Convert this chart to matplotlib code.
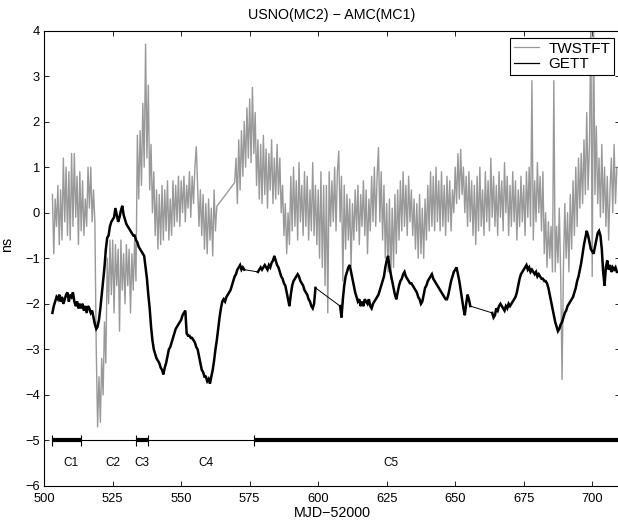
import matplotlib
matplotlib.use('Agg')
import matplotlib.pyplot as plt
from matplotlib.lines import Line2D
import numpy as np

plt.rcParams['font.family'] = ['Liberation Sans', 'DejaVu Sans']

# sample spacing (days) of the values below
STEP = 0.5

# TWSTFT, USNO(MC2) - AMC(MC1), ns; first block starts at MJD 52503.0
twstft_a_start = 503.0
twstft_a = [
    0.4, -0.9, 0.3, -0.3, 0.6, -0.7, 0.5, -0.6, 1.2, -0.2,
    1.0, -0.5, 0.9, -0.6, 1.3, -0.3, 1.3, -0.1, 0.8, -0.7,
    0.9, -0.4, 0.7, -0.5, 0.3, -0.3, 1.0, 0.1, 1.0, -0.2,
    0.5, -0.2, -3.0, -4.7, -3.6, -4.6, -3.2, -4.0, -2.4, -3.3,
    -1.0, -2.0, -0.6, -1.8, -0.6, -2.2, -0.7, -1.6, -0.8, -2.6,
    -0.6, -1.7, -0.9, -2.0, -0.7, -1.6, -0.8, -2.2, -0.9, -1.7,
    -0.6, -1.5, 1.7, 0.3, 1.8, 0.6, 2.4, 1.0, 3.7, 1.2,
    2.8, 0.5, 1.5, 0.0, 0.9, -0.5, 0.5, -0.8, 0.4, -0.7,
    0.6, -0.6, 0.5, -0.4, 0.7, -0.6, 0.3, -0.5, 0.7, -0.3,
    0.6, -0.2, 0.8, -0.3, 0.7, 0.0, 0.8, -0.2, 0.6, 0.1,
    0.9, -0.1, 0.8, 0.2, 1.0, 1.45, 0.6, -0.3, 0.5, -0.5,
    0.4, -0.8, 0.2, -0.9, 0.3, -0.6, 0.1, -0.95, 0.5, -0.4,
    0.14,
]
twstft_b_start = 569.5
twstft_b = [
    0.66, 1.2, 0.2, 1.6, 0.5, 1.8, 0.8, 2.0, 1.0, 2.3,
    1.2, 2.5, 1.1, 2.75, 1.3, 2.2, 0.6, 1.6, 0.3, 1.5,
    0.2, 1.7, 0.4, 1.4, 0.1, 1.3, 0.5, 1.6, 0.2, 1.2,
    0.3, 1.5, 0.4, 1.2, 0.0, 0.6, -0.5, 0.2, -0.9, 0.0,
    -0.7, 0.8, -0.4, 1.0, -0.3, 0.7, -0.6, 1.1, -0.2, 0.6,
    -0.5, 0.9, -0.3, 0.8, -0.6, 0.5, -0.4, 1.1, -0.5, 0.6,
    -0.7, 0.5, -1.0, 0.9, -1.2, 0.6, -1.6, 0.6, -2.2, 0.9,
    -0.3, 0.7, -0.2, 1.0, -0.4, 0.9, 1.35, -0.2, 0.8, -1.5,
    0.6, -0.8, 0.4, -0.6, 0.3, -1.17, 0.2, -0.6, 0.5, -0.4,
    0.6, -0.7, 0.4, -0.3, 0.7, -0.5, 0.5, -0.9, 0.3, -0.4,
    0.8, -0.2, 1.0, -0.3, 0.8, 1.43, -0.2, 0.9, -0.6, 0.6,
    -1.0, 0.2, -1.3, 0.3, -1.46, 0.1, -1.2, 0.4, -0.9, 0.5,
    -0.6, 0.7, -0.4, 0.9, -0.3, 0.6, -0.5, 0.8, -0.2, 0.5,
    -0.5, 0.3, -0.8, 0.2, -1.0, 0.4, -0.9, 0.1, -1.0, 0.3,
    -0.6, 0.6, -0.4, 0.9, -0.3, 0.8, -0.4, 1.0, -0.2, 0.7,
    -0.4, 0.9, -0.3, 0.6, -0.5, 0.8, -0.2, 0.7, -0.4, 0.5,
    0.0, 1.0, 0.2, 1.3, 0.3, 1.39, 0.4, 1.0, 0.0, 0.8,
    -0.3, 0.9, -0.2, 0.7, -0.5, 0.6, -0.7, 0.8, -0.4, 1.0,
    -0.3, 0.5, -0.5, 0.9, -0.2, 0.7, -0.4, 1.2, -0.1, 0.8,
    -0.3, 0.6, -0.5, 0.9, -0.1, 0.7, -0.4, 1.1, 0.0, 0.8,
    -0.5, 0.6, -0.3, 0.9, -0.2, 0.7, -0.6, 0.5, -0.3, 0.8,
    -0.2, 0.6, -0.5, 0.9, -0.1, 1.0, -0.3, 2.9, -0.6, 0.7,
    -0.2, 1.1, 0.0, 0.8, -0.4, 0.9, -0.9, 0.0, -1.2, -0.2,
    -1.0, -0.3, -1.3, 2.9, -1.3, -0.3, -1.1, 0.1, -1.4, -3.66,
    -1.2, 0.2, -1.0, 0.0, -1.3, 0.4, -0.8, 0.7, -0.5, 1.0,
    -0.3, 1.2, 0.1, 1.3, 0.2, 1.6, 0.4, 2.2, 0.5, 1.5,
    4.2, -1.4, 4.2, 0.4, 1.9, 0.2, 1.2, -0.1, 1.5, 0.0,
    1.0, -0.3, 0.8, -0.6, 0.5, 1.2, 0.0, 1.5, 0.2, 1.0,
]

# GETT, ns, four blocks of data with gaps between them
gett_a_start = 503.0
gett_a = [
    -2.2, -2.05, -1.95, -1.85, -1.9, -1.8, -1.95, -1.85, -2.0, -1.9,
    -1.8, -1.75, -1.95, -1.8, -1.85, -1.75, -1.95, -2.05, -1.95, -2.1,
    -2.0, -2.1, -2.0, -2.15, -2.05, -2.2, -2.05, -2.1, -2.2, -2.15,
    -2.3, -2.45, -2.55, -2.5, -2.35, -2.1, -1.8, -1.5, -1.2, -0.8,
    -0.55, -0.5, -0.3, -0.2, -0.15, -0.1, 0.1, -0.05, -0.2, -0.1,
    0.05, 0.15, -0.05, -0.15, -0.25, -0.3, -0.35, -0.4, -0.45, -0.5,
    -0.5, -0.6, -0.65, -0.75, -0.8, -0.85, -0.9, -0.95, -1.2, -1.45,
    -1.8, -2.1, -2.5, -2.8, -3.0, -3.1, -3.2, -3.25, -3.3, -3.4,
    -3.45, -3.55, -3.4, -3.3, -3.15, -3.0, -2.95, -2.85, -2.75, -2.65,
    -2.55, -2.5, -2.45, -2.4, -2.35, -2.25, -2.2, -2.15, -2.65, -2.7,
    -2.7, -2.75, -2.75, -2.8, -2.85, -2.95, -3.0, -3.15, -3.3, -3.45,
    -3.5, -3.6, -3.6, -3.7, -3.65, -3.75, -3.6, -3.45, -3.25, -3.0,
    -2.8, -2.55, -2.3, -2.1, -1.95, -1.9, -1.95, -1.85, -1.8, -1.75,
    -1.7, -1.6, -1.5, -1.4, -1.35, -1.25, -1.2, -1.15, -1.25, -1.2,
    -1.25,
]
gett_b_start = 578.0
gett_b = [
    -1.3, -1.25, -1.2, -1.25, -1.2, -1.15, -1.2, -1.25, -1.15, -1.2,
    -1.1, -1.05, -0.95, -1.05, -1.15, -1.2, -1.3, -1.4, -1.45, -1.55,
    -1.6, -1.75, -1.9, -2.05, -1.8, -1.6, -1.5, -1.45, -1.4, -1.35,
    -1.4, -1.5, -1.55, -1.6, -1.7, -1.75, -1.8, -1.9, -1.95, -2.05,
    -2.1, -2.0, -1.65,
]
gett_c_start = 608.0
gett_c = [
    -2.05, -2.3, -1.9, -1.6, -1.4, -1.3, -1.2, -1.15, -1.3, -1.45,
    -1.6, -1.75, -1.85, -1.95, -1.9, -2.05, -1.95, -2.05, -1.9, -1.95,
    -2.0, -1.9, -2.05, -2.1, -2.0, -1.95, -1.9, -1.85, -1.8, -1.7,
    -1.6, -1.5, -1.4, -1.2, -1.05, -0.95, -1.2, -1.35, -1.5, -1.65,
    -1.8, -1.9, -1.75, -1.6, -1.5, -1.45, -1.35, -1.3, -1.4, -1.45,
    -1.5, -1.55, -1.55, -1.6, -1.65, -1.7, -1.75, -1.85, -1.9, -2.0,
    -1.95, -1.8, -1.65, -1.6, -1.5, -1.45, -1.4, -1.35, -1.45, -1.5,
    -1.55, -1.6, -1.65, -1.7, -1.75, -1.8, -1.85, -1.9, -1.9, -1.8,
    -1.65, -1.5, -1.4, -1.3, -1.25, -1.2, -1.35, -1.5, -1.7, -1.9,
    -2.1, -2.25, -2.0, -1.8, -1.9, -2.05,
]
gett_d_start = 663.5
gett_d = [
    -2.2, -2.3, -2.25, -2.1, -2.15, -2.05, -2.0, -2.05, -2.1, -2.15,
    -2.05, -2.1, -2.0, -2.05, -2.0, -1.95, -1.9, -1.85, -1.75, -1.6,
    -1.45, -1.35, -1.3, -1.25, -1.2, -1.15, -1.25, -1.2, -1.3, -1.25,
    -1.3, -1.35, -1.3, -1.4, -1.35, -1.4, -1.45, -1.45, -1.5, -1.5,
    -1.55, -1.65, -1.8, -1.95, -2.1, -2.25, -2.4, -2.5, -2.6, -2.55,
    -2.45, -2.4, -2.3, -2.2, -2.15, -2.05, -2.0, -1.95, -1.9, -1.85,
    -1.75, -1.65, -1.5, -1.4, -1.25, -1.1, -0.9, -0.7, -0.55, -0.4,
    -0.5, -0.65, -0.8, -0.85, -0.9, -0.75, -0.6, -0.45, -0.4, -0.5,
    -0.8, -1.3, -1.6, -1.2, -1.05, -1.25, -1.15, -1.3, -1.2, -1.25,
    -1.2, -1.3,
]

# common-clock campaigns shown along the bottom
campaign_level = -5.0
campaign_label_level = -5.5
campaign_edges = [503.0, 513.4, 533.6, 537.8, 576.7, 710.0]
campaign_bold = [True, False, True, False, True]
campaign_names = ['C1', 'C2', 'C3', 'C4', 'C5']
campaign_label_x = [509.7, 525.0, 535.8, 559.0, 626.6]


def block(start, values):
    x = start + STEP * np.arange(len(values))
    return x, np.array(values)


tw_blocks = [block(twstft_a_start, twstft_a), block(twstft_b_start, twstft_b)]
ge_blocks = [
    block(gett_a_start, gett_a),
    block(gett_b_start, gett_b),
    block(gett_c_start, gett_c),
    block(gett_d_start, gett_d),
]

fig = plt.figure(figsize=(6.18, 5.27), dpi=100)
ax = fig.add_axes([0.0715, 0.0778, 0.9311, 0.8643])

gray = '#999999'
tw_x = np.concatenate([b[0] for b in tw_blocks])
tw_y = np.concatenate([b[1] for b in tw_blocks])
ax.plot(tw_x, tw_y, color=gray, lw=1.0, zorder=2)

ge_x = np.concatenate([b[0] for b in ge_blocks])
ge_y = np.concatenate([b[1] for b in ge_blocks])
ax.plot(ge_x, ge_y, color='black', lw=0.7, zorder=3)
for x, y in ge_blocks:
    ax.plot(x, y, color='black', lw=1.8, zorder=3, solid_joinstyle='miter')

# campaign bar
ax.plot([campaign_edges[0], campaign_edges[-1]],
        [campaign_level, campaign_level], color='black', lw=0.8)
for i, bold in enumerate(campaign_bold):
    if bold:
        ax.plot(campaign_edges[i:i + 2], [campaign_level, campaign_level],
                color='black', lw=3.0, solid_capstyle='butt')
ax.vlines(campaign_edges[:-1], campaign_level - 0.13, campaign_level + 0.13,
          color='black', lw=0.8)
for name, xl in zip(campaign_names, campaign_label_x):
    ax.text(xl, campaign_label_level, name, ha='center', va='center',
            fontsize=8.5)

ax.set_xlim(500, 710)
ax.set_ylim(-6, 4)
ax.set_xticks(np.arange(500, 701, 25))
ax.set_yticks(np.arange(-6, 5, 1))
ax.tick_params(direction='in', top=True, right=True, length=3.5,
               width=0.6, labelsize=9.3)
ax.tick_params(axis='x', pad=5)
ax.tick_params(axis='y', pad=3)
for s in ax.spines.values():
    s.set_linewidth(0.8)

ax.set_title('USNO(MC2) \u2212 AMC(MC1)', fontsize=10.3, pad=8)
ax.set_xlabel('MJD\u221252000', fontsize=10.3, labelpad=1)
ax.set_ylabel('ns', fontsize=10.3)
ax.yaxis.set_label_coords(-0.053, 0.53)

handles = [Line2D([], [], color=gray, lw=0.9),
           Line2D([], [], color='black', lw=0.9)]
leg = ax.legend(handles, ['TWSTFT', 'GETT'], loc='upper right',
                bbox_to_anchor=(0.990, 0.984), borderaxespad=0,
                fontsize=11, fancybox=False, framealpha=1,
                edgecolor='black', handlelength=1.65, handletextpad=0.6,
                borderpad=0.25, labelspacing=0.12)
leg.get_frame().set_linewidth(0.8)
leg.set_zorder(5)

plt.savefig('out.png', dpi=100)
plt.close()
